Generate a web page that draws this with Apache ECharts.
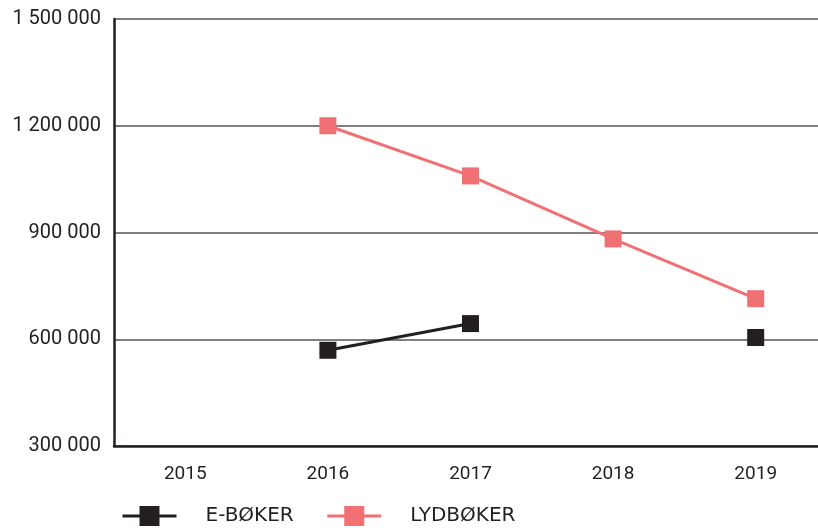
<!DOCTYPE html>
<html>
<head>
<meta charset="utf-8">
<script src="https://cdn.jsdelivr.net/npm/echarts@6/dist/echarts.min.js"></script>
<style>
html, body { margin: 0; padding: 0; background: #fff; }
#chart { width: 818px; height: 528px; }
</style>
</head>
<body>
<div id="chart"></div>
<script>
// data
const years = ["2015", "2016", "2017", "2018", "2019"];
const eboker = [null, 569000, 644000, null, 605000];
const lydboker = [null, 1200000, 1059000, 882000, 714000];

const chart = echarts.init(document.getElementById("chart"));
chart.setOption({
    animation: false,
    grid: { left: 114, right: -9, top: 19, bottom: 82, outerBoundsMode: "none" },
    xAxis: {
        type: "category",
        data: years,
        axisLine: { lineStyle: { color: "#231f20", width: 2.5 } },
        axisTick: { show: false },
        axisLabel: { color: "#231f20", fontSize: 19, fontFamily: "Roboto", margin: 19 }
    },
    yAxis: {
        type: "value",
        min: 300000,
        max: 1500000,
        interval: 300000,
        axisLine: { show: true, lineStyle: { color: "#231f20", width: 2.5 } },
        axisTick: { show: false },
        splitLine: { lineStyle: { color: "#555", width: 1.5 } },
        axisLabel: {
            color: "#231f20", fontSize: 20, fontFamily: "Roboto", margin: 13,
            formatter: v => String(v).replace(/\B(?=(\d{3})+(?!\d))/g, " ")
        }
    },
    legend: {
        left: 116,
        bottom: -3,
        itemWidth: 54,
        itemHeight: 25,
        itemGap: 32,
        lineStyle: { width: 3 },
        textStyle: { color: "#231f20", fontSize: 20, fontFamily: "DejaVu Sans", padding: [0, 0, 0, 24] },
        data: ["E-BØKER", "LYDBØKER"]
    },
    series: [
        {
            name: "E-BØKER",
            type: "line",
            data: eboker,
            symbol: "rect",
            symbolSize: 17,
            connectNulls: false,
            lineStyle: { color: "#231f20", width: 3 },
            itemStyle: { color: "#231f20" }
        },
        {
            name: "LYDBØKER",
            type: "line",
            data: lydboker,
            symbol: "rect",
            symbolSize: 17,
            lineStyle: { color: "#f07073", width: 3 },
            itemStyle: { color: "#f07073" }
        }
    ]
});
</script>
</body>
</html>
